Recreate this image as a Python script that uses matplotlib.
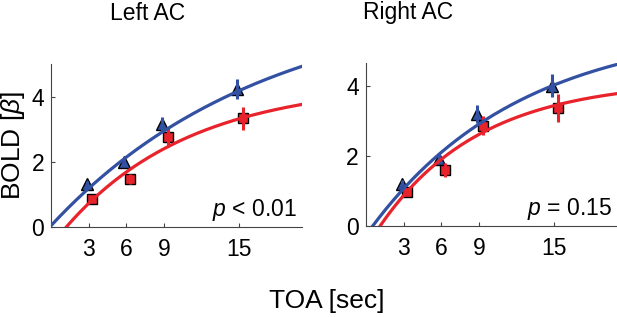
import numpy as np
import matplotlib
matplotlib.use("Agg")
import matplotlib.pyplot as plt

plt.rcParams['font.family'] = ['Liberation Sans', 'DejaVu Sans']
plt.rcParams['mathtext.fontset'] = 'custom'
plt.rcParams['mathtext.it'] = 'Liberation Sans:italic'
plt.rcParams['mathtext.rm'] = 'Liberation Sans'

toa = [3, 6, 9, 15]

# Left AC
left_tri = [1.32, 2.0, 3.17, 4.24]
left_tri_err = [0.1, 0.1, 0.2, 0.3]
left_sq = [0.88, 1.47, 2.76, 3.34]
left_sq_err = [0.08, 0.15, 0.3, 0.36]
# fit params: A, x0, tau for y = A*(1-exp(-(x-x0)/tau))
left_blue_fit = (7.12, -0.12, 17.0)
left_red_fit = (4.45, 1.2, 10.0)
left_p = "$p$ < 0.01"

# Right AC
right_tri = [1.2, 1.92, 3.2, 4.01]
right_tri_err = [0.1, 0.12, 0.25, 0.33]
right_sq = [0.97, 1.59, 2.87, 3.37]
right_sq_err = [0.1, 0.2, 0.28, 0.41]
right_blue_fit = (5.76, 0.56, 12.0)
right_red_fit = (4.18, 1.15, 8.0)
right_p = "$p$ = 0.15"

blue = '#3351a3'
red = '#e8232b'

fig = plt.figure(figsize=(6.17, 3.17), dpi=100)
ax1 = fig.add_axes([0.0827, 0.283, 0.4068, 0.514])
ax2 = fig.add_axes([0.593, 0.288, 0.4068, 0.512])


def fitcurve(x, p):
    A, x0, tau = p
    return A * (1 - np.exp(-(x - x0) / tau))


def panel(ax, tri, tri_err, sq, sq_err, bfit, rfit, ptxt, ytop):
    x = np.array(toa, dtype=float)
    xs = np.linspace(0, 20, 300)
    ax.plot(x - 0.15, tri, '^', ms=9, mfc=blue, mec='black', mew=1.0, zorder=2)
    ax.plot(x + 0.3, sq, 's', ms=6.5, mfc=red, mec='black', mew=1.0, zorder=2)
    ax.vlines(x - 0.15, np.array(tri) - tri_err, np.array(tri) + tri_err,
              color=blue, lw=2.2, zorder=3)
    ax.vlines(x + 0.3, np.array(sq) - sq_err, np.array(sq) + sq_err,
              color=red, lw=2.2, zorder=3)
    ax.plot(xs, fitcurve(xs, bfit), color=blue, lw=2.3, zorder=4)
    ax.plot(xs, fitcurve(xs, rfit), color=red, lw=2.3, zorder=4)
    ax.set_xlim(0, 20)
    ax.set_ylim(0, ytop)
    ax.set_xticks(toa)
    ax.set_yticks([0, 2, 4])
    ax.tick_params(direction='in', length=3, width=0.8, labelsize=16.5, colors='#444444',
                   labelcolor='black')
    ax.tick_params(axis='x', pad=8)
    ax.tick_params(axis='y', pad=5)
    for s in ['top', 'right']:
        ax.spines[s].set_visible(False)
    for s in ['left', 'bottom']:
        ax.spines[s].set_color('#444444')
        ax.spines[s].set_linewidth(0.8)
    ax.text(0.98, 0.025, ptxt, transform=ax.transAxes, ha='right', va='bottom',
            fontsize=16.5)


panel(ax1, left_tri, left_tri_err, left_sq, left_sq_err,
      left_blue_fit, left_red_fit, left_p, 5)
panel(ax2, right_tri, right_tri_err, right_sq, right_sq_err,
      right_blue_fit, right_red_fit, right_p, 4.65)

ax1.set_ylabel("BOLD [$\\beta$]", fontsize=19)
ax1.yaxis.set_label_coords(-0.095, 0.5)
fig.text(148 / 617, 1 - 13 / 317, "Left AC", ha='center', va='center', fontsize=16.5)
fig.text(408 / 617, 1 - 13 / 317, "Right AC", ha='center', va='center', fontsize=16.5)
fig.text(327 / 617, 1 - 301 / 317, "TOA [sec]", ha='center', va='center', fontsize=19)

fig.savefig("out.png", dpi=100)
